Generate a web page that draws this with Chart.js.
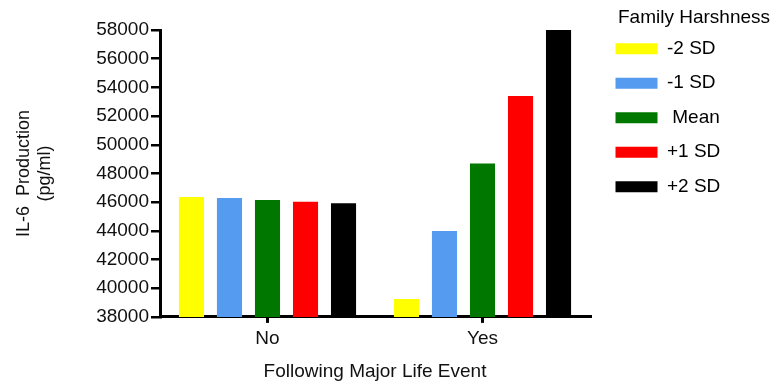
<!DOCTYPE html>
<html>
<head>
<meta charset="utf-8">
<script src="https://cdn.jsdelivr.net/npm/chart.js@4"></script>
<style>
  html, body { margin: 0; padding: 0; background: #fff; }
</style>
</head>
<body>
<canvas id="il6-chart" width="778" height="388"></canvas>
<script>
const kategori = ['No', 'Yes'];
const labelHarshness = ['-2 SD', '-1 SD', ' Mean', '+1 SD', '+2 SD'];
const warnaHarshness = ['#FFFF00', '#559BF0', '#007800', '#FF0000', '#000000'];
// nilai per level: [No, Yes]
const minus2SD = [46350, 39250];
const minus1SD = [46280, 43980];
const meanSD = [46150, 48700];
const plus1SD = [46030, 53400];
const plus2SD = [45920, 58000];
const yTicks = [38000, 40000, 42000, 44000, 46000, 48000, 50000, 52000, 54000, 56000, 58000];

const semuaData = [minus2SD, minus1SD, meanSD, plus1SD, plus2SD];
const fontUtama = 'Liberation Sans, Arial, sans-serif';

// lebarkan legend supaya area chart berhenti di posisi yang sama dengan gambar
const legendWidthPlugin = {
  id: 'legendWidth',
  beforeLayout(chart) {
    const legend = chart.legend;
    if (legend && !legend._fitDiubah) {
      const fitAsli = legend.fit.bind(legend);
      legend.fit = function () {
        fitAsli();
        this.width = 188;
      };
      legend._fitDiubah = true;
    }
  },
  afterLayout(chart) {
    chart.legend.left += 10;
    chart.legend.right += 10;
  },
};

new Chart(document.getElementById('il6-chart'), {
  type: 'bar',
  data: {
    labels: kategori,
    datasets: semuaData.map((data, i) => ({
      label: labelHarshness[i],
      data: data,
      backgroundColor: warnaHarshness[i],
      borderWidth: 0,
      categoryPercentage: 0.884,
      barPercentage: 0.66,
    })),
  },
  plugins: [legendWidthPlugin],
  options: {
    responsive: false,
    animation: false,
    layout: { padding: { top: 0, right: 0, bottom: 0, left: 0 } },
    plugins: {
      tooltip: { enabled: false },
      legend: {
        position: 'right',
        align: 'start',
        title: {
          display: true,
          text: 'Family Harshness',
          color: '#000',
          font: { family: fontUtama, size: 19, lineHeight: 0.8 },
          padding: { top: 8.5, bottom: 0 },
        },
        labels: {
          boxWidth: 42,
          boxHeight: 11,
          padding: 15.5,
          color: '#000',
          font: { family: fontUtama, size: 19 },
        },
      },
    },
    scales: {
      x: {
        offset: true,
        grid: {
          offset: false,
          drawOnChartArea: false,
          drawTicks: true,
          tickLength: 6,
          color: '#000',
          lineWidth: 3,
        },
        border: { display: true, color: '#000', width: 3 },
        ticks: {
          color: '#111',
          padding: 4,
          font: { family: fontUtama, size: 19 },
        },
        title: {
          display: true,
          text: 'Following Major Life Event',
          color: '#111',
          font: { family: fontUtama, size: 19 },
          padding: { top: 7, bottom: 4.5 },
        },
      },
      y: {
        min: yTicks[0],
        max: yTicks[yTicks.length - 1],
        afterBuildTicks(scale) {
          scale.ticks = yTicks.map(v => ({ value: v }));
        },
        afterFit(scale) {
          scale.width = 160;
          scale.paddingTop = 30;
        },
        grid: {
          drawOnChartArea: false,
          drawTicks: true,
          tickLength: 9,
          color: '#000',
          lineWidth: 2.5,
        },
        border: { display: true, color: '#000', width: 3 },
        ticks: {
          color: '#111',
          padding: 2,
          font: { family: fontUtama, size: 19 },
          callback: value => String(value),
        },
        title: {
          display: true,
          text: ['IL-6  Production', '(pg/ml)'],
          color: '#111',
          font: { family: fontUtama, size: 18 },
          padding: { top: 13, bottom: 4 },
        },
      },
    },
  },
});
</script>
</body>
</html>
